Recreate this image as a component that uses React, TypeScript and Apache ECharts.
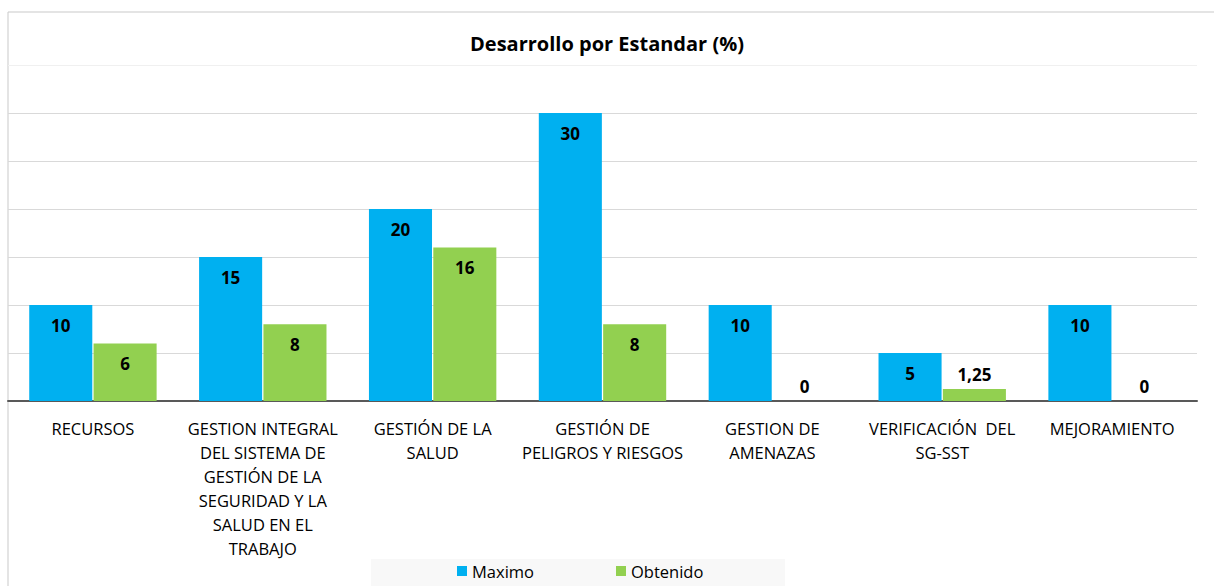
import React, { useEffect, useRef } from "react";
import * as echarts from "echarts";

const categories = [
  "RECURSOS",
  "GESTION INTEGRAL\nDEL SISTEMA DE\nGESTIÓN DE LA\nSEGURIDAD Y LA\nSALUD EN EL\nTRABAJO",
  "GESTIÓN DE LA\nSALUD",
  "GESTIÓN DE\nPELIGROS Y RIESGOS",
  "GESTION DE\nAMENAZAS",
  "VERIFICACIÓN  DEL\nSG-SST",
  "MEJORAMIENTO",
];
const maximo = [10, 15, 20, 30, 10, 5, 10];
const obtenido = [6, 8, 16, 8, 0, 1.25, 0];
const seriesNames = ["Maximo", "Obtenido"];
const titleText = "Desarrollo por Estandar (%)";

const FONT = "'Open Sans', sans-serif";

function fmt(v: number) {
  return String(v).replace(".", ",");
}

function toData(vals: number[]) {
  return vals.map((v) => {
    if (v < 3) {
      return {
        value: v,
        label: { position: "top", distance: 6 },
      };
    }
    return { value: v };
  });
}

export default function App() {
  const ref = useRef<HTMLDivElement>(null);
  useEffect(() => {
    if (!ref.current) return;
    const chart = echarts.init(ref.current, undefined, { renderer: "svg" });
    const labelCfg = {
      show: true,
      position: "insideTop",
      distance: 12,
      color: "#000",
      fontWeight: "bold",
      fontSize: 17,
      fontFamily: FONT,
      formatter: (p: any) => fmt(p.value),
    };
    chart.setOption({
      animation: false,
      backgroundColor: "#fff",
      title: {
        text: titleText,
        left: "center",
        top: 28,
        textStyle: { fontFamily: FONT, fontWeight: "bold", fontSize: 20, color: "#000" },
      },
      graphic: [
        {
          type: "rect",
          shape: { x: 8, y: 12, width: 1230, height: 620 },
          style: { fill: "none", stroke: "#c9c9c9", lineWidth: 1 },
          z: -1,
        },
        {
          type: "rect",
          shape: { x: 371, y: 559, width: 414, height: 40 },
          style: { fill: "#f8f8f8" },
          z: -1,
        },
      ],
      grid: { left: 8, right: 17, top: 65, bottom: 185, containLabel: false },
      legend: {
        data: seriesNames,
        left: 452,
        top: 560,
        padding: [0, 5, 0, 5],
        itemWidth: 10,
        itemHeight: 10,
        itemGap: 82,
        icon: "rect",
        textStyle: { fontFamily: FONT, fontSize: 16.5, color: "#000", lineHeight: 22 },
      },
      xAxis: {
        type: "category",
        data: categories,
        axisLine: { lineStyle: { color: "#595959", width: 2 } },
        axisTick: { show: false },
        axisLabel: {
          interval: 0,
          margin: 15,
          fontFamily: FONT,
          fontSize: 16.5,
          lineHeight: 24,
          color: "#000",
          align: "center",
        },
      },
      yAxis: {
        type: "value",
        min: 0,
        max: 35,
        interval: 5,
        axisLabel: { show: false },
        axisLine: { show: false },
        axisTick: { show: false },
        splitLine: {
          lineStyle: {
            color: ["#d9d9d9", "#d9d9d9", "#d9d9d9", "#d9d9d9", "#d9d9d9", "#d9d9d9", "#d9d9d9", "#f0f0f0"],
            width: 1,
          },
        },
      },
      series: [
        {
          name: seriesNames[0],
          type: "bar",
          data: toData(maximo),
          itemStyle: { color: "#00B0F0" },
          barGap: "2%",
          barCategoryGap: "25%",
          label: labelCfg,
        },
        {
          name: seriesNames[1],
          type: "bar",
          data: toData(obtenido),
          itemStyle: { color: "#92D050" },
          label: labelCfg,
        },
      ],
    });
    return () => chart.dispose();
  }, []);
  return (
    <div
      ref={ref}
      style={{ position: "absolute", left: 0, top: 0, width: 1214, height: 586 }}
    />
  );
}
